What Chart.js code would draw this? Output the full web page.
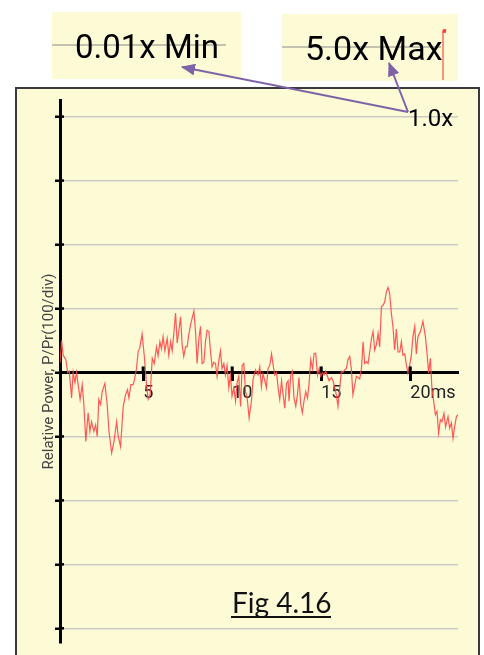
<!DOCTYPE html>
<html>
<head>
<meta charset="utf-8">
<script src="https://cdn.jsdelivr.net/npm/chart.js@4.4.1/dist/chart.umd.min.js"></script>
<style>
  html, body { margin: 0; padding: 0; background: #fff; }
  #page { position: relative; width: 484px; height: 655px; overflow: hidden; }
  #frame { position: absolute; left: 15px; top: 87px; width: 461px; height: 600px;
           border: 2px solid #3a3a3a; background: #fdfbd6; }
  #powerChart, #notes { position: absolute; left: 0; top: 0; }
  #notes { pointer-events: none; }
</style>
</head>
<body>
<div id="page">
  <div id="frame"></div>
  <canvas id="powerChart" width="484" height="655"></canvas>
  <svg id="notes" width="484" height="655">
    <defs>
      <marker id="head" markerUnits="userSpaceOnUse" markerWidth="14" markerHeight="12" refX="13" refY="6" orient="auto">
        <path d="M0,0 L14,6 L0,12 z" fill="#7e62a8"/>
      </marker>
    </defs>
    <rect x="52" y="12" width="189" height="67" fill="#fdfbd6"/>
    <line x1="52" y1="45" x2="226" y2="45" stroke="#8a8a8a" stroke-width="1"/>
    <text x="75" y="58" font-family="Roboto" font-size="33" fill="#000">0.01x Min</text>
    <rect x="282" y="14" width="176" height="67" fill="#fdfbd6"/>
    <line x1="282" y1="47" x2="441" y2="47" stroke="#8a8a8a" stroke-width="1"/>
    <text x="305" y="60" font-family="Roboto" font-size="34" fill="#000">5.0x Max</text>
    <line x1="443" y1="30" x2="443" y2="80" stroke="#ff2a2a" stroke-width="1"/>
    <path d="M443,33 L444,29 L445,33 L446,29" stroke="#ff2a2a" fill="none" stroke-width="1"/>
    <text x="408" y="126" font-family="Roboto" font-size="24" fill="#000">1.0x</text>
    <line x1="408" y1="112" x2="182" y2="67" stroke="#7e62a8" stroke-width="2" marker-end="url(#head)"/>
    <line x1="408" y1="112" x2="389" y2="63" stroke="#7e62a8" stroke-width="2" marker-end="url(#head)"/>
    <text x="232" y="613" font-family="Lato" font-size="28" fill="#111">Fig 4.16</text>
    <line x1="231" y1="617" x2="331" y2="617" stroke="#111" stroke-width="2.2"/>
  </svg>
</div>
<script>
// время, мс
const times = [
  0.33, 0.42, 0.51, 0.66, 0.76, 0.85, 0.98, 1.07, 1.17, 1.26,
  1.35, 1.46, 1.58, 1.67, 1.78, 1.91, 2.01, 2.10, 2.23, 2.33,
  2.42, 2.51, 2.61, 2.70, 2.85, 2.98, 3.08, 3.23, 3.36, 3.51,
  3.60, 3.73, 3.88, 4.01, 4.12, 4.20, 4.31, 4.44, 4.53, 4.63,
  4.72, 4.81, 4.94, 5.06, 5.19, 5.28, 5.39, 5.51, 5.62,
  5.75, 5.84, 5.94, 6.03, 6.12, 6.22, 6.35, 6.44, 6.54, 6.63,
  6.72, 6.82, 6.91, 7.00, 7.10, 7.19, 7.28, 7.38, 7.47, 7.56,
  7.66, 7.75, 7.85, 7.94, 8.03, 8.13, 8.22, 8.31, 8.41, 8.50,
  8.59, 8.69, 8.78, 8.87, 8.97, 9.06, 9.15, 9.25, 9.34, 9.43,
  9.53, 9.62, 9.71, 9.81, 9.90, 9.99, 10.09, 10.19, 10.27, 10.37,
  10.47, 10.56, 10.65, 10.75, 10.84, 10.95, 11.08, 11.17, 11.31,
  11.45, 11.55, 11.64, 11.73, 11.83, 11.92, 12.01, 12.11, 12.21, 12.30,
  12.39, 12.49, 12.58, 12.67, 12.77, 12.86, 12.95, 13.05, 13.14, 13.19,
  13.29, 13.38, 13.47, 13.57, 13.66, 13.75, 13.85, 13.94, 14.03, 14.13,
  14.23, 14.32, 14.41, 14.51, 14.60, 14.69, 14.79, 14.88, 14.97, 15.07,
  15.16, 15.25, 15.35, 15.44, 15.57, 15.66, 15.76, 15.85, 15.94, 16.04,
  16.13, 16.22, 16.32, 16.41, 16.50, 16.60, 16.69, 16.78, 16.88, 16.97,
  17.06, 17.16,
  17.26, 17.35, 17.44, 17.54, 17.63, 17.72, 17.82, 17.91, 18.00, 18.10,
  18.19, 18.28, 18.38, 18.47, 18.56, 18.66, 18.75, 18.84, 18.94, 19.03,
  19.12, 19.22, 19.31, 19.41, 19.50, 19.59, 19.69, 19.78, 19.87, 19.97,
  20.06, 20.15, 20.25, 20.34, 20.43, 20.57, 20.71, 20.85, 20.96, 21.03,
  21.13, 21.22, 21.31, 21.41, 21.50, 21.59, 21.69, 21.78, 21.89, 21.98,
  22.12, 22.21, 22.31, 22.40, 22.49, 22.59, 22.68
];

// относительная мощность (100/div)
const power = [
  15, 50, 27, 20, 0, 2, -40, 0, -16, 0,
  -19, -42, -19, -50, -108, -63, -92, -77, -92, -82,
  -100, -42, -50, -30, -17, -50, -92, -126, -108, -77,
  -100, -116, -53, -35, -27, -40, -19, -19, -9, 7,
  33, 38, 60, 27, -19, -42, -35, 22, 14,
  40, 26, 48, 37, 56, 34, 53, 27, 48, 34,
  61, 93, 46, 64, 87, 43, 25, 40, 40, 59,
  74, 85, 96, 64, 14, 53, 72, 14, 16, 48,
  66, 64, 34, 9, 16, 14, -6, 19, 34, 6,
  14, -4, 11, -24, -4, -37, -24, -45, -17, -6,
  -53, 11, 14, -30, -40, -71, -45, -11, 4,
  -4, 9, -22, -2, -13, -24, 6, 11, 29, 11,
  -4, 0, -24, -42, -13, -35, -56, -17, -13, -45,
  -4, 2, -40, -53, -35, -8, -50, -63, -45, -30,
  -40, -17, 20, 6, 30, 30, -4, 6, -6, 0,
  -4, 2, -6, -13, -8, -13, -24, -35, -53, -24,
  2, 0, 4, 6, 20, 25, 6, -35, -20, -6,
  -8, -10,
  7, 48, 14, 17, 14, 32, 53, 64, 35, 44,
  61, 40, 103, 105, 110, 126, 133, 124, 92, 71,
  35, 68, 32, 32, 48, 27, 29, 12, -1, 12,
  27, 56, 72, 29, 56, 64, 80, 56, 24, -1,
  22, -27, -44, -66, -61, -95, -74, -77, -64, -85,
  -69, -87, -79, -103, -85, -69, -66
];

const xTicks = [5, 10, 15, 20];
const yTicks = [-400, -300, -200, -100, 0, 100, 200, 300, 400];

// засечки, пересекающие ось с обеих сторон
const crossTicks = {
    id: 'crossTicks',
    afterDraw(chart) {
        const { ctx, scales: { x, y } } = chart;
        const y0 = y.getPixelForValue(0);
        const x0 = x.left;
        ctx.save();
        ctx.strokeStyle = '#000';
        ctx.lineWidth = 3;
        xTicks.forEach(v => {
            const px = x.getPixelForValue(v);
            ctx.beginPath();
            ctx.moveTo(px, y0 - 6);
            ctx.lineTo(px, y0);
            ctx.stroke();
        });
        ctx.lineWidth = 2.5;
        yTicks.forEach(v => {
            const py = y.getPixelForValue(v);
            ctx.beginPath();
            ctx.moveTo(x0, py);
            ctx.lineTo(x0 + 4, py);
            ctx.stroke();
        });
        ctx.restore();
    }
};

const ctx = document.getElementById('powerChart').getContext('2d');
const powerChart = new Chart(ctx, {
    type: 'line',
    data: {
        datasets: [{
            data: times.map((t, i) => ({ x: t, y: power[i] })),
            borderColor: 'rgba(255, 70, 70, 0.9)',
            borderWidth: 1.2,
            pointRadius: 0,
            tension: 0,
            fill: false
        }]
    },
    options: {
        responsive: false,
        animation: false,
        devicePixelRatio: 1,
        layout: { padding: { left: 0, top: 100, right: 26, bottom: 12 } },
        plugins: {
            legend: { display: false },
            tooltip: { enabled: false }
        },
        scales: {
            x: {
                type: 'linear',
                min: 0.33,
                max: 22.68,
                position: { y: 0 },
                z: 1,
                afterBuildTicks: s => { s.ticks = xTicks.map(v => ({ value: v })); },
                border: { display: true, color: '#000', width: 3 },
                grid: {
                    display: true,
                    drawOnChartArea: false,
                    drawTicks: true,
                    tickLength: 7,
                    tickColor: '#000',
                    tickWidth: 3
                },
                ticks: {
                    align: 'start',
                    padding: 3,
                    color: '#222',
                    maxRotation: 0,
                    autoSkip: false,
                    font: { family: 'Roboto', size: 18 },
                    callback: v => v === 20 ? '20ms' : String(v)
                }
            },
            y: {
                min: -423,
                max: 426,
                z: 1,
                afterBuildTicks: s => { s.ticks = yTicks.map(v => ({ value: v })); },
                afterFit: s => { s.width = 60; },
                border: { display: true, color: '#000', width: 3 },
                grid: {
                    color: c => (c.tick && c.tick.value === 0) ? 'rgba(0,0,0,0)' : '#cbcbc3',
                    lineWidth: 1.5,
                    tickLength: 5,
                    tickColor: '#000',
                    tickWidth: 2.5
                },
                ticks: { display: false },
                title: {
                    display: true,
                    text: 'Relative Power, P/Pr(100/div)',
                    color: '#444',
                    font: { family: 'Roboto', size: 15 },
                    padding: { top: 40, bottom: 0 }
                }
            }
        }
    },
    plugins: [crossTicks]
});
</script>
</body>
</html>
